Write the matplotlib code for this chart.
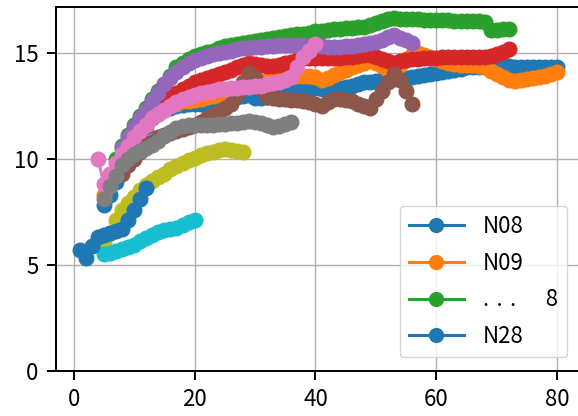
import matplotlib
matplotlib.use("Agg")
import matplotlib.pyplot as plt

plt.rcParams["font.family"] = ["Noto Sans CJK JP", "DejaVu Sans"]

# --------------------------
# Data
# --------------------------
n08_x = list(range(5, 81))
n08_y = [7.8, 8.3, 8.9, 9.5, 10.0, 10.5, 11.0, 11.5, 11.9, 12.1, 12.3, 12.4, 12.5, 12.55, 12.6, 12.6,
         12.6, 12.65, 12.65, 12.7, 12.75, 12.8, 12.9, 12.95, 13.0, 12.85, 12.85, 12.9, 13.0, 13.1, 13.15,
         13.2, 13.25, 13.3, 13.35, 13.35, 13.3, 13.3, 13.3, 13.35, 13.4, 13.45, 13.5, 13.6, 13.6, 13.65,
         13.7, 13.75, 13.75, 13.8, 13.8, 13.85, 13.9, 13.95, 14.0, 14.05, 14.1, 14.15, 14.2, 14.25, 14.3,
         14.3, 14.3, 14.3, 14.35, 14.35, 14.35, 14.35, 14.3, 14.3, 14.3, 14.3, 14.3, 14.3, 14.3, 14.3]

n09_x = list(range(5, 81))
n09_y = [8.3, 8.9, 9.5, 10.0, 10.5, 10.9, 11.3, 11.6, 11.9, 12.1, 12.3, 12.5, 12.6, 12.7, 12.7, 12.75,
         12.8, 12.9, 12.95, 13.0, 13.1, 13.2, 13.3, 13.4, 13.5, 13.55, 13.6, 13.7, 13.75, 13.8, 13.8,
         13.85, 13.9, 13.9, 13.9, 13.85, 13.7, 13.8, 13.95, 14.1, 14.2, 14.3, 14.4, 14.5, 14.6, 14.5,
         14.35, 14.2, 14.1, 14.4, 14.7, 14.9, 15.0, 14.9, 14.8, 14.7, 14.6, 14.5, 14.45, 14.4, 14.4,
         14.4, 14.35, 14.3, 14.15, 14.0, 13.85, 13.7, 13.65, 13.7, 13.75, 13.8, 13.85, 13.9, 14.0, 14.1]

green_x = list(range(6, 73))
green_y = [9.3, 10.0, 10.6, 11.1, 11.6, 12.0, 12.4, 12.8, 13.2, 13.5, 13.9, 14.3, 14.5, 14.7, 14.85,
           14.95, 15.05, 15.1, 15.2, 15.3, 15.35, 15.4, 15.45, 15.5, 15.55, 15.6, 15.65, 15.7, 15.75,
           15.8, 15.85, 15.9, 15.9, 15.95, 16.0, 16.0, 16.05, 16.1, 16.1, 16.15, 16.15, 16.2, 16.2,
           16.3, 16.4, 16.5, 16.6, 16.65, 16.6, 16.6, 16.6, 16.6, 16.55, 16.55, 16.55, 16.55, 16.55,
           16.5, 16.5, 16.5, 16.5, 16.5, 16.45, 16.05, 16.05, 16.1, 16.1]

red_x = list(range(9, 73))
red_y = [10.4, 10.9, 11.3, 11.7, 12.1, 12.4, 12.7, 12.9, 13.1, 13.3, 13.45, 13.6, 13.7, 13.8, 13.9,
         14.0, 14.1, 14.2, 14.3, 14.4, 14.5, 14.45, 14.4, 14.35, 14.35, 14.4, 14.5, 14.55, 14.65, 14.75,
         14.75, 14.75, 14.75, 14.75, 14.75, 14.75, 14.8, 14.8, 14.85, 14.9, 14.9, 14.8, 14.7, 14.6,
         14.5, 14.6, 14.65, 14.7, 14.7, 14.75, 14.75, 14.75, 14.8, 14.8, 14.8, 14.8, 14.8, 14.8, 14.8,
         14.8, 14.85, 14.95, 15.05, 15.15]

purple_x = list(range(8, 57))
purple_y = [10.5, 11.0, 11.5, 11.9, 12.3, 12.7, 13.1, 13.5, 13.8, 14.1, 14.3, 14.5, 14.65, 14.75,
            14.85, 14.95, 15.0, 15.05, 15.1, 15.15, 15.2, 15.2, 15.25, 15.25, 15.3, 15.3, 15.35, 15.35,
            15.35, 15.35, 15.35, 15.3, 15.3, 15.3, 15.25, 15.25, 15.25, 15.3, 15.3, 15.35, 15.4, 15.45,
            15.5, 15.6, 15.75, 15.85, 15.7, 15.6, 15.45]

brown_x = list(range(8, 57))
brown_y = [9.3, 9.7, 10.0, 10.3, 10.6, 10.8, 11.0, 11.1, 11.2, 11.3, 11.4, 11.5, 11.6, 11.75, 11.9,
           12.05, 12.2, 12.4, 12.6, 13.0, 13.6, 14.05, 13.8, 13.3, 12.9, 12.85, 12.8, 12.8, 12.75,
           12.75, 12.7, 12.65, 12.6, 12.5, 12.65, 12.8, 12.8, 12.75, 12.7, 12.6, 12.5, 12.4, 12.8,
           13.2, 13.6, 14.0, 13.7, 13.2, 12.6]

pink_x = list(range(4, 41))
pink_y = [10.0, 8.8, 9.3, 9.8, 10.2, 10.6, 11.0, 11.3, 11.6, 11.9, 12.1, 12.3, 12.5, 12.65, 12.8, 12.9,
          13.0, 13.1, 13.15, 13.2, 13.3, 13.3, 13.35, 13.35, 13.4, 13.4, 13.45, 13.45, 13.5, 13.55,
          13.6, 13.7, 13.85, 14.3, 14.8, 15.1, 15.4]

gray_x = list(range(5, 37))
gray_y = [8.1, 8.7, 9.2, 9.7, 10.0, 10.2, 10.35, 10.5, 10.65, 10.85, 11.05, 11.25, 11.45, 11.55, 11.6,
          11.6, 11.6, 11.6, 11.6, 11.65, 11.65, 11.7, 11.7, 11.75, 11.8, 11.75, 11.7, 11.6, 11.5,
          11.55, 11.65, 11.75]

olive_x = list(range(5, 29))
olive_y = [6.0, 6.5, 7.1, 7.6, 7.9, 8.2, 8.5, 8.75, 8.95, 9.15, 9.3, 9.5, 9.65, 9.8, 9.95, 10.05,
           10.15, 10.25, 10.3, 10.4, 10.45, 10.4, 10.35, 10.3]

cyan_x = list(range(5, 21))
cyan_y = [5.5, 5.55, 5.65, 5.75, 5.85, 5.95, 6.1, 6.25, 6.4, 6.55, 6.65, 6.7, 6.75, 6.85, 7.0, 7.1]

n28_x = list(range(1, 13))
n28_y = [5.7, 5.3, 5.9, 6.3, 6.4, 6.5, 6.6, 6.7, 7.1, 7.6, 8.1, 8.6]

series = [
    (n08_x, n08_y, "N08"),
    (n09_x, n09_y, "N09"),
    (green_x, green_y, ".\u2004.\u2004.\u2003\u20048"),
    (red_x, red_y, None),
    (purple_x, purple_y, None),
    (brown_x, brown_y, None),
    (pink_x, pink_y, None),
    (gray_x, gray_y, None),
    (olive_x, olive_y, None),
    (cyan_x, cyan_y, None),
    (n28_x, n28_y, "N28"),
]

# --------------------------
# Plot
# --------------------------
fig = plt.figure(figsize=(5.78, 4.16), dpi=100)
ax = fig.add_axes([0.0969, 0.1089, 0.909, 0.8736])

handles = []
for i, (xs, ys, label) in enumerate(series):
    (line,) = ax.plot(xs, ys, marker="o", color=f"C{i % 10}", linewidth=2.2,
                      markersize=10.5, label=label)
    if label:
        handles.append(line)

ax.set_xlim(-2.93, 84)
ax.set_ylim(0, 17.14)
ax.set_xticks([0, 20, 40, 60, 80])
ax.set_yticks([0, 5, 10, 15])
ax.grid(True, color="#b0b0b0", linewidth=1.0)
ax.tick_params(labelsize=16, length=6.7, width=1.4, pad=6)
for sp in ax.spines.values():
    sp.set_linewidth(1.4)

ax.legend(handles=handles, loc="lower right", fontsize=16, markerscale=0.95,
          bbox_to_anchor=(567 / 578, 1 - 357 / 416), bbox_transform=fig.transFigure,
          borderaxespad=0, handlelength=2.5, handletextpad=0.85, labelspacing=0.62)

fig.savefig("out.png", dpi=100)
